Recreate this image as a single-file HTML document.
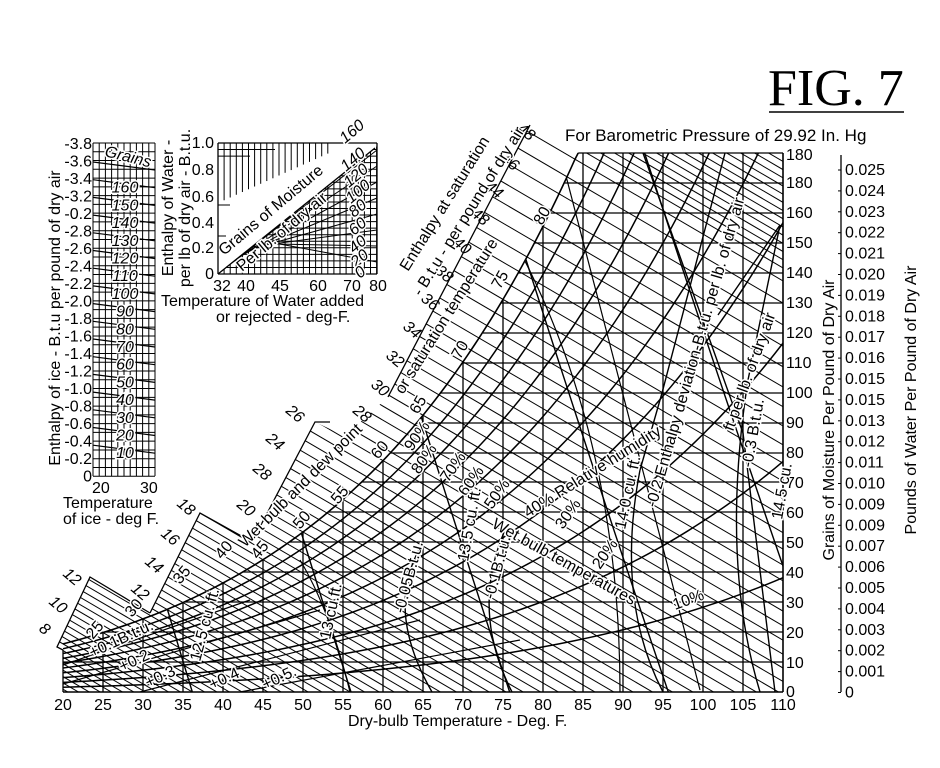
<!DOCTYPE html>
<html><head><meta charset="utf-8"><style>
html,body{margin:0;padding:0;background:#fff;width:940px;height:768px;overflow:hidden;}
svg{display:block;}
text{font-family:"Liberation Sans",sans-serif;fill:#000;}
.n{font-size:16px;}
.i{font-style:italic;font-size:16px;}
</style></head><body>
<svg id="s" width="940" height="768" viewBox="0 0 940 768" xmlns="http://www.w3.org/2000/svg" overflow="hidden">
<defs>
<clipPath id="cAll"><polygon id="pAll" points=""/></clipPath>
<clipPath id="cChart"><polygon id="pChart" points=""/></clipPath>
<clipPath id="cIce"><rect x="93" y="143" width="62" height="333"/></clipPath>
<clipPath id="cWat"><polygon points="218,274 377,146 377,274"/></clipPath>
</defs>
<g id="lines" stroke="#000" fill="none"></g>

<text x="768" y="105" style="font-family:'Liberation Serif',serif;font-size:52px">FIG. 7</text>
<line x1="769" y1="112" x2="904" y2="112" stroke="#000" stroke-width="1.5"/>
<text x="565" y="141" style="font-size:17px">For Barometric Pressure of 29.92 In. Hg</text>

<g class="n">
<text x="786" y="160">180</text><text x="786" y="188">180</text><text x="786" y="218">160</text>
<text x="786" y="248">150</text><text x="786" y="278">140</text><text x="786" y="308">130</text>
<text x="786" y="338">120</text><text x="786" y="368">110</text><text x="786" y="398">100</text>
<text x="786" y="428">90</text><text x="786" y="458">80</text><text x="786" y="488">70</text>
<text x="786" y="518">60</text><text x="786" y="548">50</text><text x="786" y="578">40</text>
<text x="786" y="608">30</text><text x="786" y="638">20</text><text x="786" y="668">10</text>
<text x="786" y="697">0</text>
</g>
<text transform="translate(834,420) rotate(-90)" text-anchor="middle" style="font-size:16px">Grains  of  Moisture  Per  Pound  of  Dry  Air</text>
<text transform="translate(916,400) rotate(-90)" text-anchor="middle" style="font-size:16px">Pounds of Water Per Pound of Dry Air</text>
<g class="n" id="lbs"></g>

<g class="n" text-anchor="middle">
<text x="63" y="710">20</text><text x="103" y="710">25</text><text x="143" y="710">30</text>
<text x="183" y="710">35</text><text x="223" y="710">40</text><text x="263" y="710">45</text>
<text x="303" y="710">50</text><text x="343" y="710">55</text><text x="383" y="710">60</text>
<text x="423" y="710">65</text><text x="463" y="710">70</text><text x="503" y="710">75</text>
<text x="543" y="710">80</text><text x="583" y="710">85</text><text x="623" y="710">90</text>
<text x="663" y="710">95</text><text x="703" y="710">100</text><text x="743" y="710">105</text>
<text x="783" y="710">110</text>
</g>
<text x="348" y="726" style="font-size:16px">Dry-bulb Temperature - Deg. F.</text>

<g class="n" text-anchor="end" id="iceL"></g>
<text transform="translate(60,318) rotate(-90)" text-anchor="middle" style="font-size:16px">Enthalpy of ice - B.t.u per pound of dry air</text>
<g class="i" id="iceN" text-anchor="middle"></g>
<text transform="translate(104,156) rotate(14)" class="i" style="paint-order:stroke;stroke:#fff;stroke-width:3px">Grains</text>
<text x="92" y="493" class="n">20</text><text x="140" y="493" class="n">30</text>
<text x="63" y="508" class="n">Temperature</text>
<text x="63" y="524" class="n">of ice - deg F.</text>

<g class="n" text-anchor="end">
<text x="214" y="148">1.0</text><text x="214" y="175">0.8</text><text x="214" y="202">0.6</text>
<text x="214" y="228">0.4</text><text x="214" y="253">0.2</text><text x="214" y="279">0</text>
</g>
<text transform="translate(173,208) rotate(-90)" text-anchor="middle" style="font-size:16px">Enthalpy of Water -</text>
<text transform="translate(190,208) rotate(-90)" text-anchor="middle" style="font-size:16px">per lb of dry air - B.t.u.</text>
<g class="n" text-anchor="middle">
<text x="222" y="291">32</text><text x="246" y="291">40</text><text x="280" y="291">45</text>
<text x="318" y="291">60</text><text x="352" y="291">70</text><text x="378" y="291">80</text>
</g>
<text x="161" y="306" class="n">Temperature of Water added</text>
<text x="216" y="322" class="n">or rejected - deg-F.</text>
<text transform="translate(224,256) rotate(-40)" style="font-size:16px">Grains  of  Moisture</text>
<text transform="translate(242,272) rotate(-40)" style="font-size:16px;paint-order:stroke;stroke:#fff;stroke-width:3px">Per lb. of dry air</text>
<g class="i" style="paint-order:stroke;stroke:#fff;stroke-width:3px">
<text transform="translate(345,144) rotate(-40)">160</text>
<text transform="translate(346,172) rotate(-40)">140</text>
<text transform="translate(349,188) rotate(-40)">120</text>
<text transform="translate(351,204) rotate(-40)">100</text>
<text transform="translate(354,218) rotate(-40)">80</text>
<text transform="translate(354,236) rotate(-40)">60</text>
<text transform="translate(354,254) rotate(-40)">40</text>
<text transform="translate(356,268) rotate(-40)">20</text>
<text transform="translate(360,279) rotate(-40)">0</text>
</g>

<g class="i">
<text transform="translate(38,630) rotate(40)">8</text>
<text transform="translate(48,603) rotate(40)">10</text>
<text transform="translate(62,575) rotate(40)">12</text>
<text transform="translate(130,590) rotate(40)">12</text>
<text transform="translate(144,563) rotate(40)">14</text>
<text transform="translate(160,535) rotate(40)">16</text>
<text transform="translate(176,505) rotate(40)">18</text>
<text transform="translate(236,506) rotate(40)">20</text>
<text transform="translate(252,470) rotate(40)">28</text>
<text transform="translate(265,440) rotate(40)">24</text>
<text transform="translate(285,412) rotate(40)">26</text>
<text transform="translate(352,412) rotate(40)">28</text>
<text transform="translate(370,386) rotate(40)">30</text>
<text transform="translate(385,357) rotate(40)">32</text>
<text transform="translate(402,328) rotate(40)">34</text>
<text transform="translate(420,300) rotate(40)">36</text>
<text transform="translate(434,272) rotate(40)">38</text>
<text transform="translate(452,244) rotate(40)">40</text>
<text transform="translate(470,215) rotate(40)">48</text>
<text transform="translate(484,188) rotate(40)">44</text>
<text transform="translate(500,160) rotate(40)">46</text>
<text transform="translate(516,130) rotate(40)">48</text>
</g>

<g class="n" style="paint-order:stroke;stroke:#fff;stroke-width:3px">
<text transform="translate(93,640) rotate(-50)">25</text>
<text transform="translate(132,618) rotate(-50)">30</text>
<text transform="translate(180,585) rotate(-50)">35</text>
<text transform="translate(222,560) rotate(-50)">40</text>
<text transform="translate(258,560) rotate(-50)">45</text>
<text transform="translate(300,530) rotate(-50)">50</text>
<text transform="translate(338,505) rotate(-50)">55</text>
<text transform="translate(378,460) rotate(-50)">60</text>
<text transform="translate(418,415) rotate(-60)">65</text>
<text transform="translate(460,360) rotate(-60)">70</text>
<text transform="translate(500,290) rotate(-60)">75</text>
<text transform="translate(542,226) rotate(-60)">80</text>

<text transform="translate(412,452) rotate(-55)">90%</text>
<text transform="translate(419,475) rotate(-55)">80%</text>
<text transform="translate(448,483) rotate(-55)">70%</text>
<text transform="translate(466,497) rotate(-55)">60%</text>
<text transform="translate(492,510) rotate(-55)">50%</text>
<text transform="translate(528,518) rotate(-32)">40% Relative humidity</text>
<text transform="translate(563,530) rotate(-55)">30%</text>
<text transform="translate(600,570) rotate(-55)">20%</text>
<text transform="translate(675,610) rotate(-20)">10%</text>
<text transform="translate(491,527) rotate(29)">Wet bulb  temperatures</text>
<text transform="translate(245,548) rotate(-45)">Wet bulb and dew point</text>
<text transform="translate(403,395) rotate(-58)">or saturation temperature</text>
<text transform="translate(408,272) rotate(-58)">Enthalpy at saturation</text>
<text transform="translate(421,297) rotate(-58)">- B.t.u - per pound of dry air</text>
<text transform="translate(656,508) rotate(-74)">-0.2 Enthalpy deviation-B.t.u. per lb. of dry air</text>
<text transform="translate(752,468) rotate(-80)">-0.3 B.t.u.</text>
<text transform="translate(733,432) rotate(-70)">ft per lb. of dry air</text>
<text transform="translate(782,520) rotate(-80)">14.5 cu.</text>
<text transform="translate(625,530) rotate(-78)">14.0 cu. ft.</text>
<text transform="translate(468,562) rotate(-80)">13.5 cu. ft.</text>
<text transform="translate(330,640) rotate(-78)">13 cu.ft.</text>
<text transform="translate(200,662) rotate(-75)">12.5 cu. ft.</text>
<text transform="translate(404,614) rotate(-75)">-0.05B.t.u.</text>
<text transform="translate(494,600) rotate(-75)">-0.1B.t.u.</text>
<text transform="translate(92,658) rotate(-25)">+0.1B.t.u.</text>
<text transform="translate(122,672) rotate(-25)">+0.2</text>
<text transform="translate(148,688) rotate(-25)">+0.3</text>
<text transform="translate(212,690) rotate(-25)">+0.4</text>
<text transform="translate(265,690) rotate(-25)">+0.5.</text>
</g>
</svg>
<script>
(function(){
var NS="http://www.w3.org/2000/svg";
var G=document.getElementById("lines");
function X(T){return 63+8*(T-20);}
function Y(g){return 692-3*g;}
function ws(T,rh){rh=rh||1;var c=(T-32)/1.8;var p=6.112*Math.exp(17.62*c/(243.12+c));p*=rh;return 0.622*p/(1013.25-p)*7000;}
function ln(x1,y1,x2,y2,w,clip){var l=document.createElementNS(NS,"line");l.setAttribute("x1",x1);l.setAttribute("y1",y1);l.setAttribute("x2",x2);l.setAttribute("y2",y2);l.setAttribute("stroke-width",w||1);if(clip)l.setAttribute("clip-path","url(#"+clip+")");G.appendChild(l);}
function pth(d,w,clip){var l=document.createElementNS(NS,"path");l.setAttribute("d",d);l.setAttribute("stroke-width",w||1);if(clip)l.setAttribute("clip-path","url(#"+clip+")");G.appendChild(l);}
var sat=[];for(var T=20;T<=84.2;T+=0.5){var g=ws(T);if(g>179.5)g=179.5;sat.push([X(T),Y(g)]);}
var Tt=20;while(ws(Tt)<179.7)Tt+=0.05;sat.push([X(Tt),153]);
var chart=[[63,692]].concat(sat).concat([[783,153],[783,692]]);
document.getElementById("pChart").setAttribute("points",chart.map(function(p){return p.join(",")}).join(" "));
var all=[[63,692],[63,650],[57,647],[90,577],[150,613],[200,513],[252,542],[315,422],[345,436],[388,397],[530,125],[X(Tt),153],[783,153],[783,692]];
document.getElementById("pAll").setAttribute("points",all.map(function(p){return p.join(",")}).join(" "));
pth("M63,650 L57,647 L90,577 L150,613",1.3);pth("M150,613 L200,513 L252,542",1.3);pth("M252,542 L315,422 L330,422",1.3);pth("M388,397 L530,125",1.3);
pth("M"+sat.map(function(p){return p.join(",")}).join(" L"),1.6);
ln(63,692,783,692,1.6);ln(783,153,783,692,1.6);ln(X(Tt),153,783,153,1.3);ln(63,650,63,692,1.3);
for(var t=25;t<=105;t+=5){var g=ws(t);var y=g>179?153:Y(g);ln(X(t),692,X(t),y,1.3);}
var hy=[662,632,602,572,542,512,482,453,423,393,363,333,303,273,243,213,183];
hy.forEach(function(y){var g=(692-y)/3;var T=20;while(ws(T)<g&&T<90)T+=0.1;ln(Math.max(63,X(T)),y,783,y,1.3);});
for(var tw=8;tw<=120;tw+=1){var x0,y0;if(tw<=Tt){x0=X(tw);y0=Y(Math.min(ws(tw),179));}else{x0=X(Tt)+(tw-Tt)*14;y0=153;}var s=0.585;ln(x0-200,y0-200*s,x0+600,y0+600*s,1,"cAll");}
for(var r=0.1;r<0.95;r+=0.1){var d="";for(var T=20;T<=110;T+=1){var g=ws(T,r);d+=(d?" L":"M")+X(T)+","+Y(g);}pth(d,1.5,"cChart");}
[12.5,13,13.5,14,14.5].forEach(function(v){var d="";for(var g=0;g<=180;g+=5){var TR=v/(0.02521*(1+1.6078*g/7000));var T=TR-459.67;d+=(d?" L":"M")+X(T)+","+Y(g);}pth(d,1.4,"cChart");});
pth("M432,692 Q385,610 420,548",1.4,"cChart");
pth("M512,692 Q470,610 505,530",1.4,"cChart");
pth("M300,560 Q330,610 350,692",1.2,"cChart");
pth("M663,692 Q615,600 640,470 L662,393 L725,153",1.4,"cChart");
pth("M643,153 L743,433 L775,692",1.4,"cChart");
pth("M760,692 Q720,560 748,380 L780,225 L718,315",1.4,"cChart");
pth("M560,153 L700,690",1.2,"cChart");
pth("M500,215 Q620,420 620,692",1.2,"cChart");
[[63,665,250,600],[63,684,320,610],[140,692,420,620],[240,692,520,640]].forEach(function(a){ln(a[0],a[1],a[2],a[3],1.2,"cChart");});
var L=["0.025","0.024","0.023","0.022","0.021","0.020","0.019","0.018","0.017","0.016","0.015","0.015","0.013","0.012","0.011","0.010","0.009","0.009","0.007","0.006","0.005","0.004","0.003","0.002","0.001","0"];
var lb=document.getElementById("lbs");
ln(841,155,841,692,1.3);
L.forEach(function(s,i){var y=170+i*20.9;var t=document.createElementNS(NS,"text");t.setAttribute("x",845);t.setAttribute("y",y+5);t.textContent=s;lb.appendChild(t);ln(838,y,841,y,1);});
for(var i=0;i<=10;i++)ln(93+i*6.2,143,93+i*6.2,476,1);
for(var i=0;i<=38;i++)ln(93,143+i*8.77,155,143+i*8.77,1);
var il=["-3.8","-3.6","-3.4","-3.2","-0.2","-2.8","-2.6","-2.4","-2.2","-2.0","-1.8","-1.6","-1.4","-1.2","-1.0","-0.8","-0.6","-0.4","-0.2","0"];
var iL=document.getElementById("iceL");
il.forEach(function(s,i){var t=document.createElementNS(NS,"text");t.setAttribute("x",92);t.setAttribute("y",149+i*17.5);t.textContent=s;iL.appendChild(t);});
var iN=document.getElementById("iceN");
for(var i=0;i<17;i++){var y=162+i*17.7;ln(93,y,155,y+8,1.2,"cIce");if(i>0){var t=document.createElementNS(NS,"text");t.setAttribute("x",125);t.setAttribute("y",y+13);t.setAttribute("style","paint-order:stroke;stroke:#fff;stroke-width:3px");t.textContent=String(170-i*10);iN.appendChild(t);}}
var wx0=218,wx1=377,wy0=143,wy1=274;
for(var x=wx0;x<=wx1+0.1;x+=6.1){ln(x,wy1,x,wy0,1,"cWat");}
for(var y=wy0;y<=wy1+0.1;y+=6.55){ln(wx0,y,wx1,y,1,"cWat");}
for(var x=wx0;x<=330;x+=6.1){var h=Math.max(6,60-(x-wx0)*0.45);ln(x,wy0,x,wy0+h,1);}
for(var k=0;k<3;k++){ln(wx0,wy0+k*6.55,300-k*25,wy0+k*6.55,1);}
ln(wx0,205,wx0+12,205,1);ln(wx0,236,wx0+8,236,1);
ln(wx0,wy0,wx1,wy0,1.3);ln(wx0,wy1,wx1,wy1,1.3);ln(wx0,wy0,wx0,wy1,1.3);ln(wx1,wy0,wx1,wy1,1.3);
ln(218,274,375,148,1.3);
for(var k=0;k<8;k++){var sx=232+k*4,sy=274-(sx-218)*0.8;ln(sx,sy,377,150+k*16,1);}
})();
</script>
</body></html>
